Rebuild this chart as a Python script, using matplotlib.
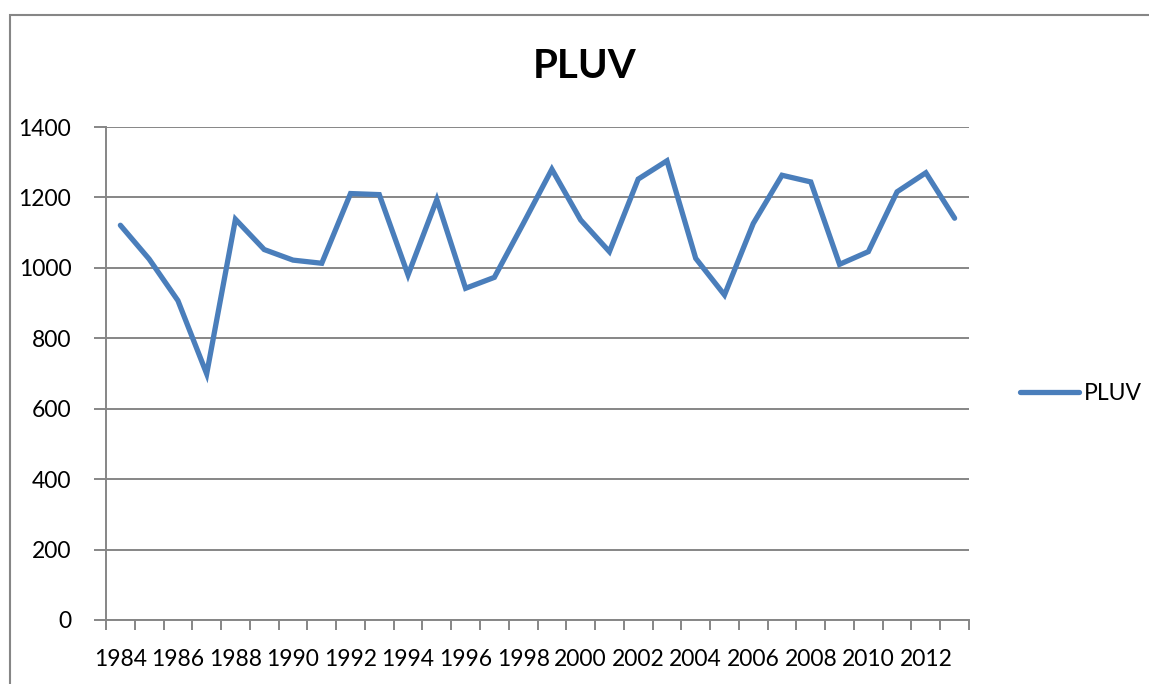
import numpy as np
import matplotlib
matplotlib.use("Agg")
import matplotlib.pyplot as plt
from matplotlib.patches import Rectangle

# Datos
years = list(range(1984, 2014))
pluv = [1121, 1025, 907, 699, 1138, 1052, 1022, 1013, 1211, 1208,
        980, 1194, 942, 973, 1125, 1280, 1136, 1046, 1252, 1304,
        1027, 923, 1126, 1263, 1244, 1010, 1046, 1216, 1270, 1141]
yticks = [0, 200, 400, 600, 800, 1000, 1200, 1400]
title = "PLUV"

plt.rcParams['font.family'] = ['Lato', 'DejaVu Sans']

fig = plt.figure(figsize=(11.49, 6.84), dpi=100)
fig.patch.set_facecolor("white")

# borde del area del grafico
fig.patches.append(Rectangle((10 / 1149, -0.1), 1.2, 1 - 15 / 684 + 0.1,
                             transform=fig.transFigure, fill=False,
                             edgecolor="#868686", linewidth=1.5))

ax = fig.add_axes([106 / 1149, 1 - 620 / 684, (969 - 106) / 1149, (620 - 127) / 684])

grid_c = "#868686"
line_c = "#4A7EBB"

x = np.arange(len(years))
ax.plot(x, pluv, color=line_c, linewidth=3.8, solid_joinstyle="miter",
        solid_capstyle="round", label="PLUV", zorder=3)

ax.set_xlim(-0.5, len(years) - 0.5)
ax.set_ylim(0, 1400)
ax.set_yticks(yticks)
ax.set_yticklabels([str(v) for v in yticks], fontsize=16.5)
ax.yaxis.grid(True, color=grid_c, linewidth=1.4)
ax.set_axisbelow(True)

# ticks entre categorias, etiquetas cada dos anios
ax.set_xticks(np.arange(len(years) + 1) - 0.5)
ax.set_xticklabels([])
ax.set_xticks(x[::2], minor=True)
ax.set_xticklabels([str(y) for y in years[::2]], minor=True, fontsize=16.5)
ax.tick_params(axis="x", which="minor", length=0, pad=21)
ax.tick_params(axis="x", which="major", length=7, width=1.4, color=grid_c)
ax.tick_params(axis="y", length=9, width=1.4, color=grid_c, pad=16)

for s in ["top", "right"]:
    ax.spines[s].set_visible(False)
for s in ["left", "bottom"]:
    ax.spines[s].set_color(grid_c)
    ax.spines[s].set_linewidth(1.4)

fig.text(585 / 1149, 1 - 66 / 684, title, ha="center", va="center",
         fontsize=29, fontweight="bold")

leg = ax.legend(loc="center left", bbox_to_anchor=(1.035, 0.46), frameon=False,
                fontsize=16.5, handlelength=2.6, handletextpad=0.2)

fig.savefig("out.png", dpi=100)
